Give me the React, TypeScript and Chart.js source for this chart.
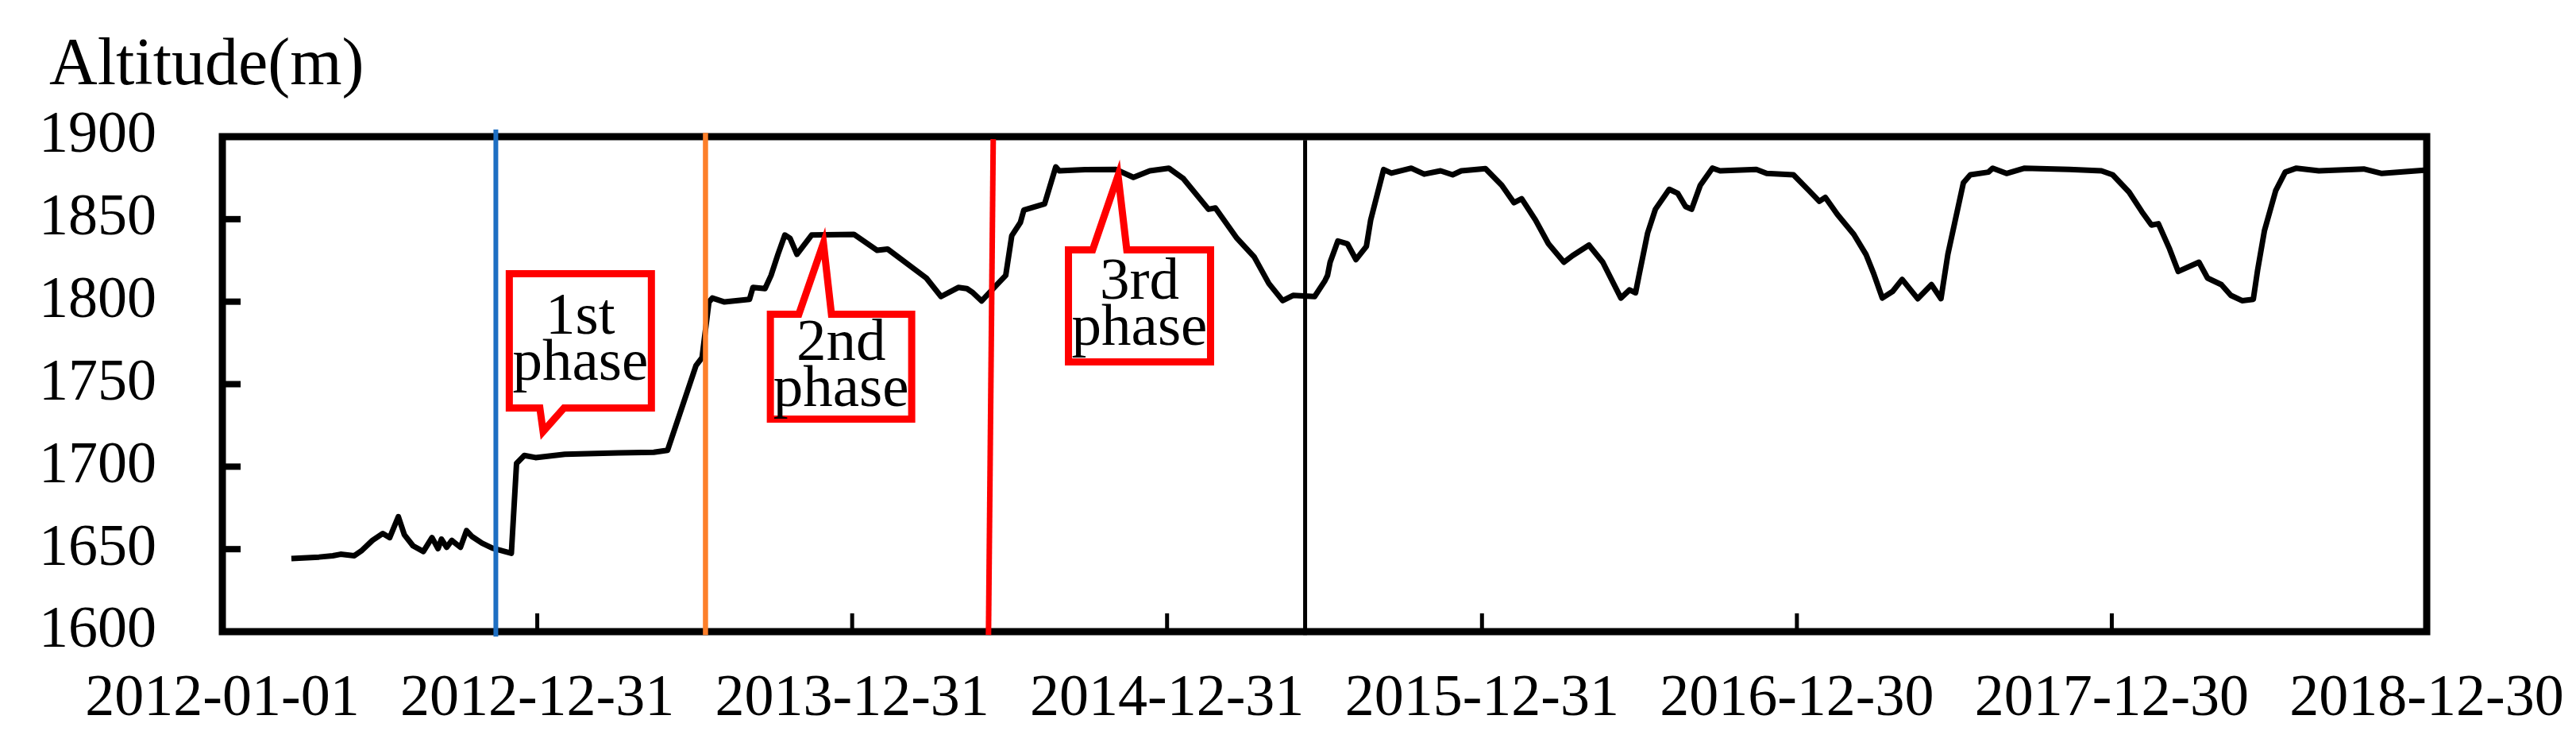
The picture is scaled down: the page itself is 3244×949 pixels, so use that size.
import React, { useEffect, useRef } from 'react';
import { Chart, registerables } from 'chart.js';

Chart.register(...registerables);

// ---- data ----
const xTickDays = [0, 365, 730, 1095, 1460, 1825, 2190, 2555];
const xTickLabels = ['2012-01-01', '2012-12-31', '2013-12-31', '2014-12-31', '2015-12-31', '2016-12-30', '2017-12-30', '2018-12-30'];
const yTickValues = [1600, 1650, 1700, 1750, 1800, 1850, 1900];
const yAxisTitle = 'Altitude(m)';

// days since 2012-01-01
const altitudeDays = [
  80, 112, 128, 137, 153, 161, 174, 186, 194, 204, 211, 221, 233, 243, 250, 254, 260, 266, 276, 283,
  289, 301, 313, 335, 341, 350, 363, 397, 459, 500, 516, 549, 556, 564, 568, 582, 611, 615, 629, 636,
  644, 652, 658, 666, 673, 683, 732, 759, 771, 816, 833, 853, 863, 870, 880, 899, 908, 915, 925, 929,
  953, 966, 970, 1000, 1036, 1056, 1075, 1097, 1114, 1143, 1151, 1176, 1196, 1213, 1229, 1241, 1266, 1278, 1281, 1284,
  1293, 1304, 1314, 1326, 1331, 1346, 1355, 1378, 1393, 1412, 1426, 1436, 1464, 1483, 1497, 1506, 1522, 1537, 1555, 1565,
  1584, 1600, 1621, 1631, 1638, 1642, 1652, 1661, 1677, 1687, 1696, 1703, 1713, 1727, 1736, 1778, 1790, 1821, 1839, 1851,
  1858, 1872, 1891, 1905, 1914, 1924, 1936, 1947, 1965, 1981, 1992, 2000, 2008, 2018, 2026, 2047, 2052, 2068, 2089, 2141,
  2178, 2191, 2210, 2225, 2236, 2244, 2257, 2267, 2291, 2301, 2317, 2328, 2341, 2354, 2359, 2367, 2380, 2391, 2404, 2430,
  2482, 2503, 2552,
];
const altitudeValues = [
  1644.3, 1645.2, 1646, 1646.9, 1646, 1648.9, 1655.3, 1659.5, 1657, 1669.7, 1658.7, 1652, 1648.6, 1657, 1650.3, 1656.1, 1651.1, 1655.3, 1651.1, 1661.2,
  1657.8, 1653.6, 1650.6, 1647.5, 1702, 1706.8, 1705.5, 1707.5, 1708.3, 1708.7, 1709.9, 1761.3, 1766.1, 1799.8, 1802.2, 1799.8, 1801.4, 1808.6, 1807.9, 1815.9,
  1828.7, 1840.4, 1838.4, 1828.7, 1833.5, 1840.4, 1840.8, 1831.1, 1831.9, 1814.3, 1803.1, 1808.6, 1807.9, 1805.4, 1800.4, 1811, 1815.9, 1840, 1848, 1855.5,
  1859.2, 1881.7, 1879.3, 1880, 1880.1, 1875.3, 1879.3, 1880.9, 1874.5, 1856, 1856.8, 1838.4, 1827.1, 1811, 1800.6, 1803.8, 1803.1, 1812.7, 1815.9, 1823.9,
  1836.8, 1835.1, 1825.5, 1833.5, 1849.5, 1880.1, 1877.9, 1880.9, 1877.3, 1879.3, 1876.9, 1879.3, 1880.6, 1870.5, 1860, 1862.4, 1849.5, 1835.1, 1823.9, 1827.9,
  1834.3, 1823.9, 1802.2, 1807.1, 1805.4, 1815.9, 1841.6, 1856, 1868.1, 1865.6, 1857.6, 1856, 1870.5, 1880.9, 1879.3, 1880.1, 1877.7, 1876.9, 1867.3, 1860.8,
  1863.2, 1852.8, 1840.8, 1828.7, 1817, 1802.2, 1806.2, 1813.5, 1801.8, 1810.3, 1801.8, 1828.7, 1848, 1872.1, 1876.9, 1878.5, 1880.9, 1877.7, 1880.9, 1880.1,
  1879.3, 1876.9, 1866.4, 1854.4, 1846.4, 1847.2, 1831.9, 1818.3, 1823.9, 1814.3, 1810.3, 1803.8, 1800.6, 1801.4, 1819.1, 1843.2, 1867.3, 1878.5, 1880.9, 1879.3,
  1880.4, 1877.7, 1879.6,
];

// phase boundary markers
const markerColors = ['#1e6fc3', '#fd7f2a', '#ff0000', '#000000'];
const markerWidths = [6, 6.5, 7, 5];
const markerBottomDays = [317, 560, 888, 1255];
const markerTopDays = [317, 560, 893.5, 1255];
const markerBottomAlts = [1597, 1598, 1598, 1598];
const markerTopAlts = [1904.3, 1902.3, 1898.5, 1898];

// callouts: box [leftDay, rightDay, topAlt, bottomAlt], tail [baseDayA, baseDayB, tipDay, tipAlt]
const calloutLines = [['1st', 'phase'], ['2nd', 'phase'], ['3rd', 'phase']];
const calloutBoxes = [
  [332.6, 497.3, 1816.9, 1735.6],
  [635.2, 799.0, 1792.4, 1728.8],
  [980.7, 1145.4, 1831.4, 1763.5],
];
const calloutTails = [
  [368, 396, 371.8, 1721.3],
  [668.2, 706, 696.7, 1835.5],
  [1008.7, 1048.3, 1038.2, 1876.4],
];
const calloutTailSides = ['bottom', 'top', 'top'];

const FONT = '"Liberation Serif", "Times New Roman", serif';

export default function App() {
  const ref = useRef<HTMLCanvasElement>(null);

  useEffect(() => {
    const canvas = ref.current;
    if (!canvas) return;

    const framePlugin = {
      id: 'frameTicks',
      beforeDatasetsDraw(chart: any) {
        const { ctx, chartArea } = chart;
        const xs = chart.scales.x;
        const ys = chart.scales.y;
        ctx.save();
        ctx.strokeStyle = '#000';
        ctx.lineWidth = 9;
        ctx.lineJoin = 'miter';
        ctx.strokeRect(chartArea.left, chartArea.top, chartArea.right - chartArea.left, chartArea.bottom - chartArea.top);
        ctx.lineWidth = 8;
        yTickValues.slice(1, -1).forEach((v) => {
          const y = ys.getPixelForValue(v);
          ctx.beginPath();
          ctx.moveTo(chartArea.left, y);
          ctx.lineTo(chartArea.left + 23, y);
          ctx.stroke();
        });
        ctx.lineWidth = 5;
        xTickDays.slice(1, -1).forEach((d) => {
          const x = xs.getPixelForValue(d);
          ctx.beginPath();
          ctx.moveTo(x, chartArea.bottom);
          ctx.lineTo(x, chartArea.bottom - 23);
          ctx.stroke();
        });
        ctx.restore();
      },
      afterDatasetsDraw(chart: any) {
        const { ctx } = chart;
        const xs = chart.scales.x;
        const ys = chart.scales.y;
        ctx.save();
        calloutBoxes.forEach((b, i) => {
          const l = xs.getPixelForValue(b[0]);
          const r = xs.getPixelForValue(b[1]);
          const t = ys.getPixelForValue(b[2]);
          const bt = ys.getPixelForValue(b[3]);
          const tl = calloutTails[i];
          const a = xs.getPixelForValue(tl[0]);
          const c = xs.getPixelForValue(tl[1]);
          const tx = xs.getPixelForValue(tl[2]);
          const ty = ys.getPixelForValue(tl[3]);
          ctx.beginPath();
          if (calloutTailSides[i] === 'top') {
            ctx.moveTo(l, t);
            ctx.lineTo(a, t);
            ctx.lineTo(tx, ty);
            ctx.lineTo(c, t);
            ctx.lineTo(r, t);
            ctx.lineTo(r, bt);
            ctx.lineTo(l, bt);
          } else {
            ctx.moveTo(l, t);
            ctx.lineTo(r, t);
            ctx.lineTo(r, bt);
            ctx.lineTo(c, bt);
            ctx.lineTo(tx, ty);
            ctx.lineTo(a, bt);
            ctx.lineTo(l, bt);
          }
          ctx.closePath();
          ctx.fillStyle = '#fff';
          ctx.fill();
          ctx.strokeStyle = '#ff0000';
          ctx.lineWidth = 9;
          ctx.lineJoin = 'miter';
          ctx.miterLimit = 10;
          ctx.stroke();
          const cx = (l + r) / 2;
          const cy = (t + bt) / 2;
          ctx.fillStyle = '#000';
          ctx.font = `75px ${FONT}`;
          ctx.textAlign = 'center';
          ctx.textBaseline = 'alphabetic';
          ctx.fillText(calloutLines[i][0], cx, cy - 8.5);
          ctx.fillText(calloutLines[i][1], cx, cy + 49.5);
        });
        ctx.restore();
      },
      afterDraw(chart: any) {
        const { ctx } = chart;
        ctx.save();
        ctx.fillStyle = '#000';
        ctx.font = `84px ${FONT}`;
        ctx.textAlign = 'left';
        ctx.textBaseline = 'alphabetic';
        ctx.fillText(yAxisTitle, 62, 106);
        ctx.restore();
      },
    };

    const markerDatasets = markerColors.map((color, i) => ({
      data: [
        { x: markerBottomDays[i], y: markerBottomAlts[i] },
        { x: markerTopDays[i], y: markerTopAlts[i] },
      ],
      borderColor: color,
      backgroundColor: color,
      borderWidth: markerWidths[i],
      pointRadius: 0,
      tension: 0,
      fill: false,
      clip: false as any,
      borderCapStyle: 'butt' as const,
    }));

    const chart = new Chart(canvas, {
      type: 'line',
      data: {
        datasets: [
          ...markerDatasets,
          {
            data: altitudeDays.map((d, i) => ({ x: d, y: altitudeValues[i] })),
            borderColor: '#000',
            backgroundColor: '#000',
            borderWidth: 7,
            pointRadius: 0,
            tension: 0,
            fill: false,
            borderJoinStyle: 'round',
            borderCapStyle: 'butt',
          },
        ],
      },
      options: {
        responsive: false,
        animation: false,
        devicePixelRatio: 1,
        layout: { padding: { left: 0, top: 172, right: 188, bottom: 0 } },
        plugins: {
          legend: { display: false },
          tooltip: { enabled: false },
          title: { display: false },
        },
        scales: {
          x: {
            type: 'linear',
            min: 0,
            max: 2555,
            grid: { display: false, drawTicks: false },
            border: { display: false },
            afterBuildTicks: (s: any) => {
              s.ticks = xTickDays.map((v) => ({ value: v }));
            },
            afterFit: (s: any) => {
              s.height = 154;
              s.paddingLeft = 0;
              s.paddingRight = 0;
            },
            ticks: {
              autoSkip: false,
              maxRotation: 0,
              minRotation: 0,
              padding: 49,
              color: '#000',
              font: { family: FONT, size: 74, lineHeight: 1 },
              callback: (_v: any, idx: number) => xTickLabels[idx],
            },
          },
          y: {
            type: 'linear',
            min: 1600,
            max: 1900,
            grid: { display: false, drawTicks: false },
            border: { display: false },
            afterBuildTicks: (s: any) => {
              s.ticks = yTickValues.map((v) => ({ value: v }));
            },
            afterFit: (s: any) => {
              s.width = 280;
              s.paddingTop = 0;
              s.paddingBottom = 0;
            },
            ticks: {
              padding: 83,
              color: '#000',
              font: { family: FONT, size: 74, lineHeight: 1 },
              callback: (v: any) => String(v),
            },
          },
        },
      },
      plugins: [framePlugin],
    });

    return () => chart.destroy();
  }, []);

  return (
    <div style={{ position: 'fixed', left: 0, top: 0, width: 3244, height: 949, background: '#fff' }}>
      <canvas ref={ref} width={3244} height={949} style={{ width: 3244, height: 949, display: 'block' }} />
    </div>
  );
}
